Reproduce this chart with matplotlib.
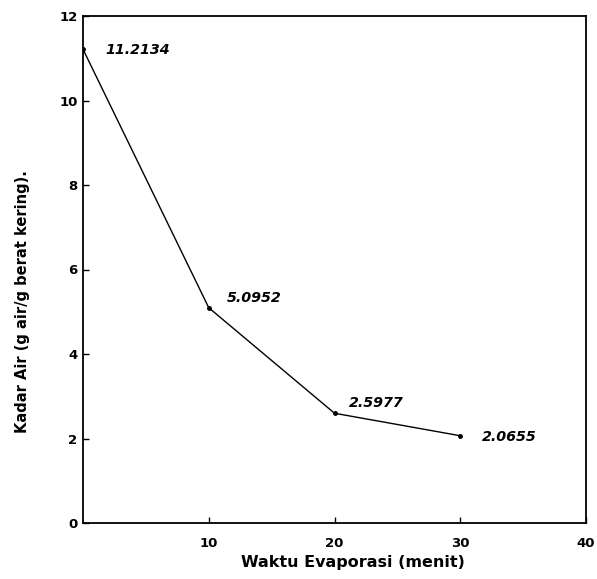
import matplotlib
matplotlib.use("Agg")
import matplotlib.pyplot as plt

# Data
waktu = [0, 10, 20, 30]
kadar_air = [11.2134, 5.0952, 2.5977, 2.0655]
labels = ["11.2134", "5.0952", "2.5977", "2.0655"]
label_offsets_px = [(22, -1), (18, 10), (14, 10), (22, -1)]
xticks = [10, 20, 30, 40]
yticks = [0, 2, 4, 6, 8, 10, 12]

plt.rcParams['font.family'] = ['DejaVu Sans']

fig = plt.figure(figsize=(5.97, 5.79), dpi=100)
L, R, T, B = 83, 586, 16, 523
ax = fig.add_axes([L/597, 1-B/579, (R-L)/597, (B-T)/579])

ax.plot(waktu, kadar_air, color='black', linewidth=1.0, marker='o', markersize=2.5)

for x, y, lab, (dx, dy) in zip(waktu, kadar_air, labels, label_offsets_px):
    ax.annotate(lab, (x, y), xytext=(dx*0.72, dy*0.72), textcoords='offset points',
                ha='left', va='center', fontsize=10.3, fontstyle='italic', fontweight='bold')

ax.set_xlim(0, 40)
ax.set_ylim(0, 12)
ax.set_xticks(xticks)
ax.set_yticks(yticks)
ax.tick_params(direction='in', length=4, width=1, labelsize=9.5)
ax.tick_params(axis='y', pad=4)
ax.tick_params(axis='x', pad=10)
for lab in ax.get_xticklabels() + ax.get_yticklabels():
    lab.set_fontweight('bold')
for s in ax.spines.values():
    s.set_linewidth(1.3)

ax.set_xlabel('Waktu Evaporasi (menit)', fontsize=11.5, fontweight='bold')
ax.set_ylabel('Kadar Air (g air/g berat kering).', fontsize=10.5, fontweight='bold')
ax.xaxis.set_label_coords(0.537, -0.077)
ax.yaxis.set_label_coords(-0.121, 0.436)
ax.xaxis.label.set_va('center')
ax.yaxis.label.set_va('center')

fig.savefig('out.png', dpi=100)
